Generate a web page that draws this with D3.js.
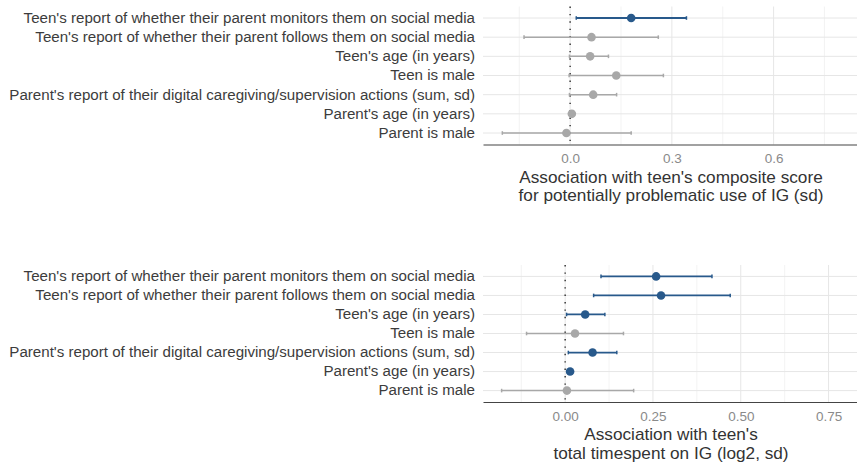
<!DOCTYPE html>
<html>
<head>
<meta charset="utf-8">
<script src="https://cdn.jsdelivr.net/npm/d3@7"></script>
<style>
  html, body { margin: 0; padding: 0; background: #fff; }
  svg { display: block; font-family: "Liberation Sans", Arial, sans-serif; }
</style>
</head>
<body>
<svg id="chart" width="857" height="470"></svg>
<script>
// Predictors, listed top to bottom
const categories = [
  "Teen's report of whether their parent monitors them on social media",
  "Teen's report of whether their parent follows them on social media",
  "Teen's age (in years)",
  "Teen is male",
  "Parent's report of their digital caregiving/supervision actions (sum, sd)",
  "Parent's age (in years)",
  "Parent is male"
];

// Outcome 1: composite score for potentially problematic use of IG (sd)
const estProblematic = [0.180, 0.063, 0.059, 0.136, 0.068, 0.005, -0.011];
const lowProblematic = [0.018, -0.136, -0.002, -0.003, -0.002, -0.003, -0.200];
const highProblematic = [0.343, 0.260, 0.113, 0.275, 0.137, 0.013, 0.180];
const ticksProblematic = [0.0, 0.3, 0.6];
const minorProblematic = [-0.15, 0.15, 0.45, 0.75];

// Outcome 2: total time spent on IG (log2, sd)
const estTime = [0.259, 0.273, 0.057, 0.028, 0.078, 0.014, 0.005];
const lowTime = [0.102, 0.081, 0.004, -0.110, 0.009, 0.006, -0.181];
const highTime = [0.418, 0.470, 0.113, 0.166, 0.147, 0.022, 0.195];
const ticksTime = [0.00, 0.25, 0.50, 0.75];
const minorTime = [-0.125, 0.125, 0.375, 0.625];

const BLUE = "#28598b";
const GREY = "#a8a8a8";
const STRETCH = 1.08;   // slightly wide lettering

const svg = d3.select("#chart");

function panel(opts) {
  const { top, bottom, domain, est, low, high, ticks, minor, fmt, title } = opts;
  const left = 483, right = 857;

  const x = d3.scaleLinear().domain(domain).range([left, right]);
  const y = d3.scalePoint().domain(categories).range([top, bottom]).padding(0.6);

  const g = svg.append("g");

  // grid
  g.append("g").selectAll("line.minor").data(minor).join("line")
    .attr("x1", d => x(d)).attr("x2", d => x(d))
    .attr("y1", top).attr("y2", bottom)
    .attr("stroke", "#f0f0f0").attr("stroke-width", 0.8);
  g.append("g").selectAll("line.major").data(ticks).join("line")
    .attr("x1", d => x(d)).attr("x2", d => x(d))
    .attr("y1", top).attr("y2", bottom)
    .attr("stroke", "#e6e6e6").attr("stroke-width", 1);
  g.append("g").selectAll("line.row").data(categories).join("line")
    .attr("x1", left).attr("x2", right)
    .attr("y1", d => y(d)).attr("y2", d => y(d))
    .attr("stroke", "#e6e6e6").attr("stroke-width", 1);

  // reference line at zero
  g.append("line")
    .attr("x1", x(0)).attr("x2", x(0))
    .attr("y1", top).attr("y2", bottom)
    .attr("stroke", "#444").attr("stroke-width", 1.6)
    .attr("stroke-dasharray", "1.4,6");

  // category labels
  g.append("g").selectAll("text").data(categories).join("text")
    .attr("transform", d => `translate(475,${y(d)}) scale(${STRETCH},1)`)
    .attr("dy", "0.35em")
    .attr("text-anchor", "end")
    .attr("font-size", 14)
    .attr("fill", "#3c3c3c")
    .text(d => d);

  const rows = categories.map((c, i) => ({
    c, est: est[i], lo: low[i], hi: high[i],
    col: (low[i] > 0 || high[i] < 0) ? BLUE : GREY
  }));

  // intervals
  const ci = g.append("g").selectAll("g").data(rows).join("g");
  ci.append("line")
    .attr("x1", d => x(d.lo)).attr("x2", d => x(d.hi))
    .attr("y1", d => y(d.c)).attr("y2", d => y(d.c))
    .attr("stroke", d => d.col)
    .attr("stroke-width", d => d.col === BLUE ? 1.8 : 1.5);
  ci.selectAll("line.cap").data(d => [d.lo, d.hi].map(v => ({ v, d }))).join("line")
    .attr("x1", e => x(e.v)).attr("x2", e => x(e.v))
    .attr("y1", e => y(e.d.c) - 1.8).attr("y2", e => y(e.d.c) + 1.8)
    .attr("stroke", e => e.d.col).attr("stroke-width", 1.5);
  ci.append("circle")
    .attr("cx", d => x(d.est)).attr("cy", d => y(d.c))
    .attr("r", 4.3)
    .attr("fill", d => d.col);

  // x axis
  const axis = d3.axisBottom(x).tickValues(ticks).tickFormat(d3.format(fmt))
    .tickSize(0).tickSizeOuter(0).tickPadding(10);
  const ax = g.append("g").attr("transform", `translate(0,${bottom})`).call(axis);
  ax.select(".domain").attr("stroke", "#444").attr("stroke-width", 1.2);
  ax.selectAll(".tick text")
    .attr("transform", `scale(${STRETCH},1)`)
    .attr("x", function () { return 0; })
    .attr("font-size", 12.5)
    .attr("fill", "#8a8a8a")
    .attr("font-family", "Liberation Sans, Arial, sans-serif");

  // axis title
  const tx = (left + right) / 2 + 1;
  g.append("g").selectAll("text").data(title).join("text")
    .attr("transform", (d, i) => `translate(${tx},${bottom + 38 + i * 18.5}) scale(${STRETCH - 0.005},1)`)
    .attr("text-anchor", "middle")
    .attr("font-size", 16)
    .attr("fill", "#333")
    .text(d => d);
}

panel({
  top: 6.5, bottom: 144.5,
  domain: [-0.257, 0.846],
  est: estProblematic, low: lowProblematic, high: highProblematic,
  ticks: ticksProblematic, minor: minorProblematic, fmt: ".1f",
  title: ["Association with teen's composite score",
          "for potentially problematic use of IG (sd)"]
});

panel({
  top: 265, bottom: 402,
  domain: [-0.234, 0.831],
  est: estTime, low: lowTime, high: highTime,
  ticks: ticksTime, minor: minorTime, fmt: ".2f",
  title: ["Association with teen's",
          "total timespent on IG (log2, sd)"]
});
</script>
</body>
</html>
